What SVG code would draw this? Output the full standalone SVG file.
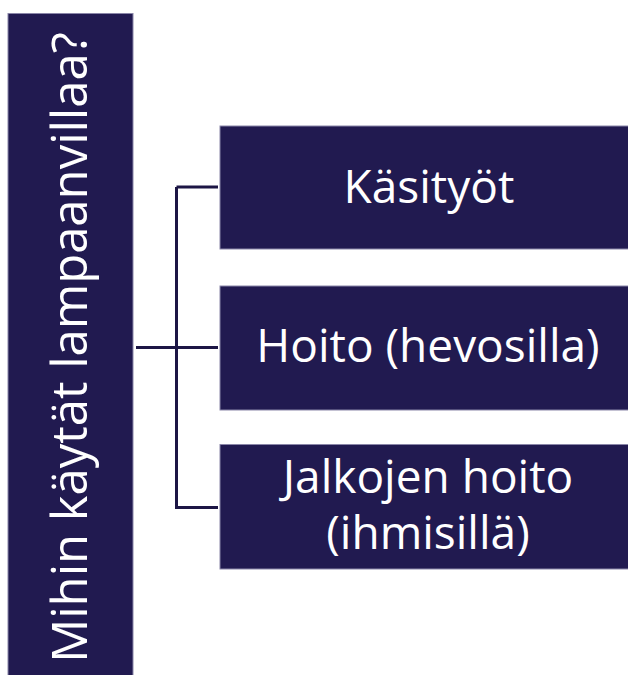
<svg xmlns="http://www.w3.org/2000/svg" width="628" height="675" viewBox="0 0 628 675">
<style>
.box{fill:#211a50;stroke:#8a86a8;stroke-width:1}
.t{fill:#ffffff;font-family:"Open Sans","Noto Sans",sans-serif;text-anchor:middle}
.c{stroke:#1c1645;stroke-width:3;fill:none}
</style>
<rect width="628" height="675" fill="#ffffff"/>
<g id="connectors">
<path class="c" d="M136 347.5H218M176.5 187V507.5H218M176.5 187H218"/>
</g>
<g id="root">
<rect class="box" x="8" y="13.5" width="125" height="663"/>
<text class="t" font-size="49" transform="translate(87 347.5) rotate(-90)">Mihin käytät lampaanvillaa?</text>
</g>
<g id="n1">
<rect class="box" x="220" y="126" width="410" height="123"/>
<text class="t" font-size="46" x="429" y="203">Käsityöt</text>
</g>
<g id="n2">
<rect class="box" x="220" y="286" width="410" height="124"/>
<text class="t" font-size="46" x="428" y="362">Hoito (hevosilla)</text>
</g>
<g id="n3">
<rect class="box" x="220" y="444.5" width="410" height="124.5"/>
<text class="t" font-size="46" x="428" y="493">Jalkojen hoito</text>
<text class="t" font-size="46" x="428" y="549">(ihmisillä)</text>
</g>
</svg>
